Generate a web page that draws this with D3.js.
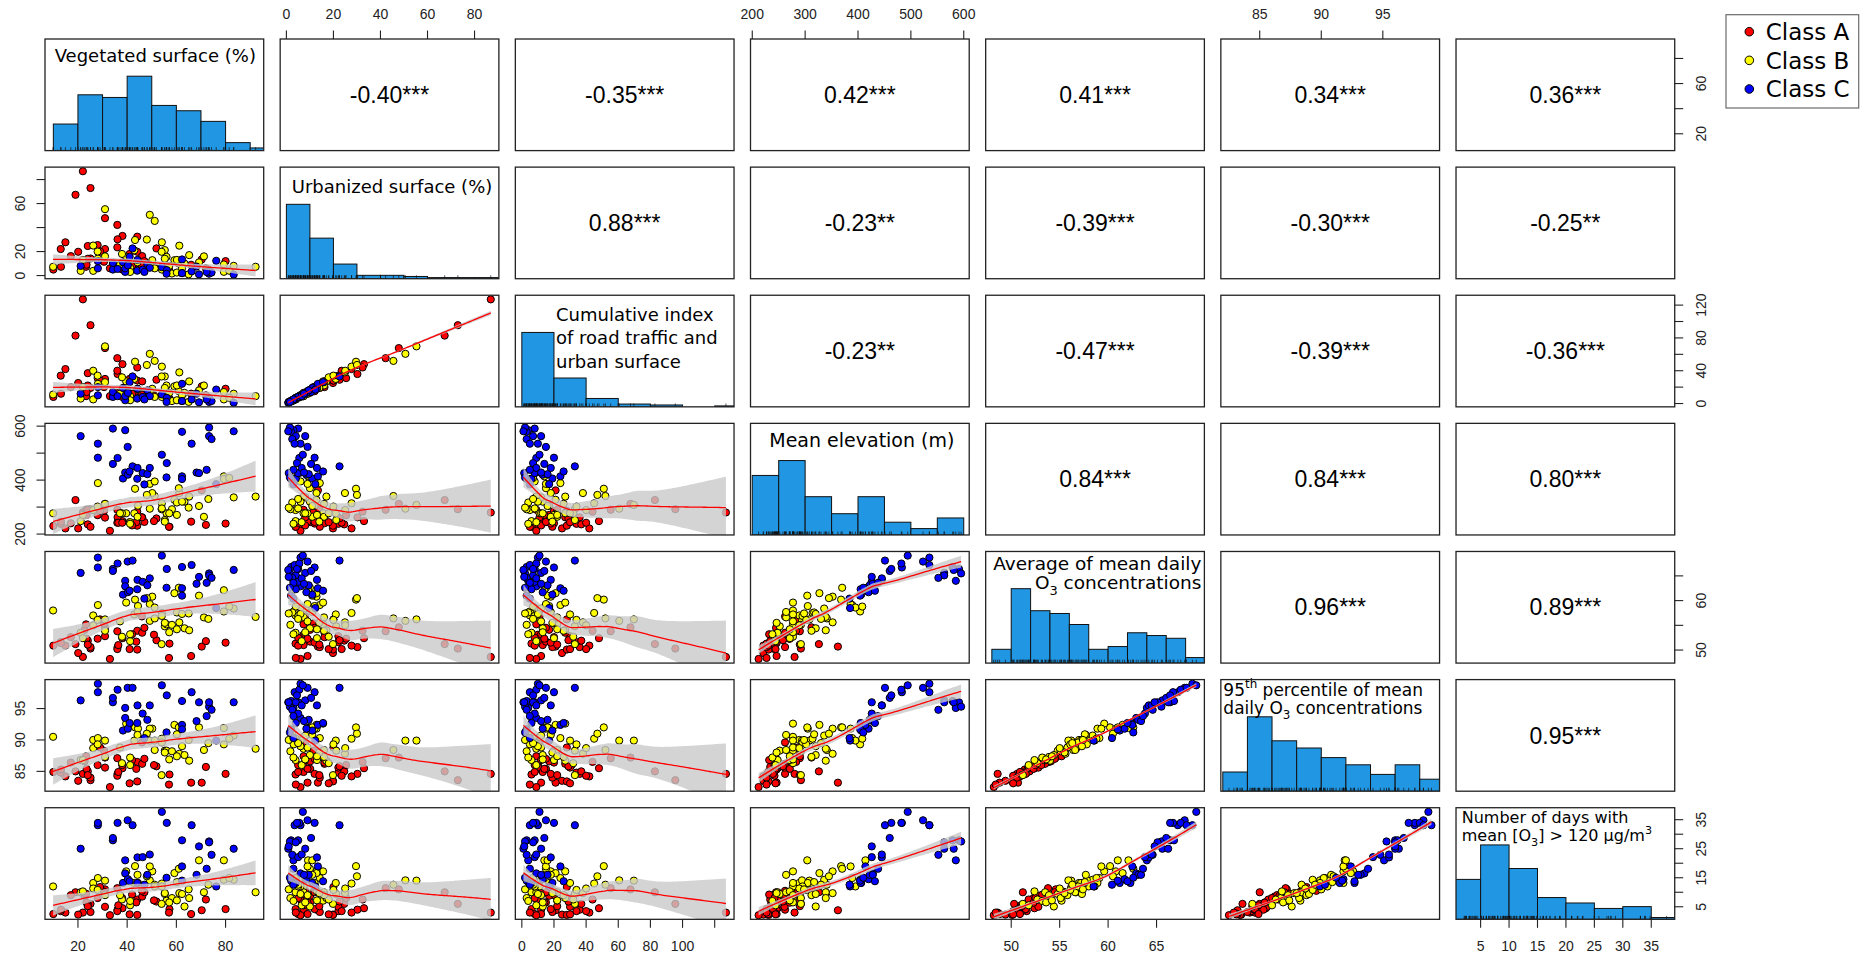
<!DOCTYPE html>
<html><head><meta charset="utf-8">
<script src="https://cdn.jsdelivr.net/npm/d3@7"></script>
<style>body{margin:0;background:#fff;} svg{display:block;}</style>
</head><body>
<svg id="chart" width="1870" height="957"></svg>
<script>
// ---------------- DATA ----------------
// Class A (red)
const vegA  = [22.0,25.1,19.0,31.0,36.0,38.1,36.1,44.1,14.9,13.0,20.1,24.0,28.0,31.0,36.0,44.1,46.1,51.9,57.2,70.3,17.1,22.7,25.1,13.1,23.3,36.4,43.7,50.9,30.6,66.0,72.0,80.0,10.0,42.0,47.0,23.5,24.0,33.0,41.0,57.0,29.0,46.0,38.0];
const urbA  = [86.9,72.9,67.3,47.8,42.2,33.0,30.2,32.4,27.7,22.1,19.8,24.6,25.4,22.1,23.5,19.8,16.2,22.6,3.9,13.4,16.2,10.1,14.2,7.3,7.3,7.3,10.1,7.3,11.5,9.0,6.0,12.0,5.0,8.0,12.0,9.0,14.0,6.0,18.0,4.0,20.0,8.0,5.0];
const cumA  = [127,95.5,82.8,67.6,55.3,48,36,44,42,34,25,37,31,30,40,28,27,29,6,21,20,17,19,12,9,13,15,10,20,12,10,18,8,12,15,14,22,9,30,5,28,11,8];
const elevA = [280,292,326,312,290,248,262,283,221,238,221,236,270,261,242,231,262,258,227,362,240,271,227,246,290,242,244,248,286,246,234,239,230,232,245,271,290,212,244,227,286,262,242];
const o3A   = [48.6,50.3,51.2,54.6,53.8,52.4,50.6,53.9,50.9,51.6,49.4,51.9,52.3,52.8,50.2,50.1,53.5,52.0,51.3,50.7,52.6,54.1,50.6,51.4,55.2,51.0,51.7,53.1,55.4,48.8,51.8,51.5,50.9,53.2,54.5,52.3,51.1,48.2,50.2,48.4,56.2,56.8,52.5];
const p95A  = [84.6,83.6,85.0,87.2,87.1,85.5,84.6,86.5,84.2,84.8,83.5,85.0,86.0,85.6,84.3,83.4,86.2,85.8,84.5,83.2,86.4,86.6,84.0,85.3,87.4,84.9,85.4,86.0,88.3,83.2,85.7,84.6,84.9,86.8,87.0,85.4,84.4,82.5,83.1,82.9,88.8,89.6,86.0];
const daysA = [3,6,10,11,11.4,4.5,4,7.5,3,3.5,2.3,6,8,5,3.5,2.2,8.5,6.8,4.2,3.8,9,8.8,3.2,4,9.5,5.5,6.5,7.2,10.2,2.5,7.5,4.2,2.5,9.2,10,6.4,5.2,2.1,2.4,3,11.8,10.5,8];
// Class B (yellow)
const vegB  = [9.9,21.1,26.2,28.1,31.0,49.2,51.2,43.2,54.1,61.2,55.3,39.6,50.2,56.0,59.2,61.0,63.3,79.3,83.3,92.2,58.2,79.3,54.0,44.4,49.2,51.2,65.2,69.2,71.2,81.5,37.9,41.2,22.0,31.0,42.9,44.2,37.1,41.2,54.1,55.3,57.1,60.2,62.3,60.2,26.2,28.0,48.0,65.0,73.0];
const urbB  = [7.3,3.9,3.9,14.2,55.3,50.6,45.5,29.6,27.7,24.9,21.2,15.6,12.8,15.6,12.8,10.0,10.0,9.2,8.1,7.3,1.7,3.1,19.8,12.0,9.0,6.0,17.0,11.0,16.0,4.0,18.0,6.5,13.0,16.0,21.0,11.0,9.0,3.0,5.0,14.0,8.0,2.5,6.0,13.0,25.0,20.0,30.0,1.0,5.0];
const cumB  = [11,6,5,24,69.7,60.6,52,51,45,38,33,27,18,22,21,15,13,14,12,9,3,5,33,17,15,8,27,16,22,7,32,9,20,26,30,18,12,4,8,19,13,4,10,22,40,34,47,2,7];
const elevB = [277,248,289,389,308,294,341,368,314,352,252,277,352,277,327,370,320,414,336,339,292,404,292,305,386,395,339,304,264,408,277,244,271,312,277,264,277,238,295,246,277,317,320,271,289,302,345,298,330];
const o3B   = [58.0,53.5,57.0,59.1,56.2,55.9,56.4,60.2,57.5,55.6,54.8,59.6,60.8,55.2,61.5,62.6,54.4,62.1,58.4,56.7,55.1,57.8,51.2,58.9,59.3,58.6,54.0,61.0,56.6,58.8,52.7,51.8,52.4,53.9,57.2,57.7,55.8,53.2,56.9,55.5,53.6,57.6,57.3,54.2,55.0,56.1,60.5,57.4,56.3];
const p95B  = [90.5,86.8,90.0,90.3,89.9,89.9,88.4,92.0,90.2,87.8,88.3,92.6,91.8,88.3,92.4,92.0,87.6,91.9,90.7,88.6,88.2,89.3,84.4,91.8,91.8,89.9,86.7,92.0,88.4,90.2,86.3,86.0,86.8,87.3,89.9,90.8,88.8,87.2,89.6,88.0,86.9,90.9,89.0,87.4,88.7,89.3,91.0,90.0,89.5];
const daysB = [12,10,13.2,14.9,14,14.1,12.6,19,13,9.7,9.4,17.2,17.2,7.1,16.6,18.1,5.1,21,14.3,10,8,14.3,6,13.2,18.9,12,8,21,10,14.9,7.5,5.5,10.3,9,13.2,16,9,7,12,9.7,6.5,13.5,9.4,7.2,11.3,10.8,15.5,11,12.6];
// Class C (blue)
const vegC  = [21.1,34.2,39.2,62.3,73.3,73.3,74.3,83.3,28.1,40.2,66.2,28.1,34.2,36.1,42.2,54.1,56.1,38.3,39.2,40.3,44.2,44.1,46.3,48.2,49.2,62.3,62.3,68.2,69.2,72.3,76.2,41.0,47.0,56.0];
const urbC  = [8.0,5.0,3.0,2.0,1.5,4.0,2.5,0.8,6.0,9.0,3.5,12.0,10.5,5.5,22.6,7.0,4.5,11.0,6.0,8.5,13.0,4.0,5.0,9.5,6.5,13.4,2.0,7.5,1.0,3.0,12.3,15.6,3.0,1.5];
const cumC  = [12,8,4,3,2,7,3,1,10,15,5,20,14,9,33,11,7,19,9,13,18,6,8,16,9,24,3,12,1.5,5,17,26,5,2];
const elevC = [563,591,585,579,595,563,552,581,535,523,535,483,460,482,451,494,463,406,428,420,445,405,426,422,445,414,404,428,426,438,385,432,384,410];
const o3C   = [65.6,66.4,64.0,66.8,65.5,65.1,64.6,66.2,68.7,67.9,67.2,66.7,66.0,67.5,68.1,69.1,66.4,61.2,62.9,61.7,64.2,62.3,63.8,63.1,64.5,62.5,61.0,63.4,64.8,63.6,58.5,62.0,60.4,62.6];
const p95C  = [96.3,96.0,95.1,96.2,95.3,96.0,94.8,96.0,98.95,98.3,97.6,97.6,96.7,98.0,98.3,98.7,97.1,91.5,93.5,91.8,95.5,92.7,94.2,93.2,95.5,92.4,91.7,93.0,96.0,93.8,89.9,92.7,90.3,91.2];
const daysC = [25.0,27.9,21.0,27.9,27.5,27.2,22.9,25.0,33.1,34.8,33.1,33.9,28.7,33.9,33.1,37.7,33.9,13.2,16.5,14.5,22.0,13.2,22.1,16.0,23.0,18.9,14.0,16.0,25.8,18.1,12.0,13.8,12.6,15.0];

// Histogram breaks and counts (diagonal panels)
const vegBreaks  = [10,20,30,40,50,60,70,80,90,100];
const vegCounts  = [10,21,20,28,17,15,11,3,1];
const urbBreaks  = [0,10,20,30,40,50,60,70,80,90];
const urbCounts  = [66,36,13,3,3,2,1,1,1];
const cumBreaks  = [0,20,40,60,80,100,120,140];
const cumCounts  = [80,31,9,3,2,0,1];
const elevBreaks = [200,250,300,350,400,450,500,550,600];
const elevCounts = [28,35,18,10,18,6,3,8];
const o3Breaks   = [48,50,52,54,56,58,60,62,64,66,68,70];
const o3Counts   = [5,27,19,18,14,5,6,11,10,9,2];
const p95Breaks  = [82,84,86,88,90,92,94,96,98,100];
const p95Counts  = [8,31,21,18,14,11,7,11,5];
const daysBreaks = [0,5,10,15,20,25,30,35,40];
const daysCounts = [22,41,28,12,9,6,7,1];

// Correlation labels (upper triangle, row by row)
const corrRow1 = ["-0.40***","-0.35***","0.42***","0.41***","0.34***","0.36***"];
const corrRow2 = ["0.88***","-0.23**","-0.39***","-0.30***","-0.25**"];
const corrRow3 = ["-0.23**","-0.47***","-0.39***","-0.36***"];
const corrRow4 = ["0.84***","0.84***","0.80***"];
const corrRow5 = ["0.96***","0.89***"];
const corrRow6 = ["0.95***"];

// Tick values and tick labels
const vegTicks  = [20,40,60,80],            vegOuterLabels  = [20,40,60,80],          vegSideLabels  = [20,60];
const urbTicks  = [0,20,40,60,80],          urbOuterLabels  = [0,20,40,60,80],        urbSideLabels  = [0,20,60];
const cumTicks  = [0,20,40,60,80,100,120],  cumOuterLabels  = [0,20,40,60,80,100],    cumSideLabels  = [0,40,80,120];
const elevTicks = [200,300,400,500,600],    elevOuterLabels = [200,300,400,500,600],  elevSideLabels = [200,400,600];
const o3Ticks   = [50,55,60,65],            o3OuterLabels   = [50,55,60,65],          o3SideLabels   = [50,60];
const p95Ticks  = [85,90,95],               p95OuterLabels  = [85,90,95],             p95SideLabels  = [85,90,95];
const daysTicks = [5,10,15,20,25,30,35],    daysOuterLabels = [5,10,15,20,25,30,35],  daysSideLabels = [5,15,25,35];

const classNames = ["Class A","Class B","Class C"];

// ---------------- ASSEMBLY ----------------
const values = [
  vegA.concat(vegB, vegC), urbA.concat(urbB, urbC), cumA.concat(cumB, cumC),
  elevA.concat(elevB, elevC), o3A.concat(o3B, o3C), p95A.concat(p95B, p95C), daysA.concat(daysB, daysC)
];
const cls = vegA.map(()=>0).concat(vegB.map(()=>1), vegC.map(()=>2));
const hists = [[vegBreaks,vegCounts],[urbBreaks,urbCounts],[cumBreaks,cumCounts],[elevBreaks,elevCounts],
               [o3Breaks,o3Counts],[p95Breaks,p95Counts],[daysBreaks,daysCounts]];
const corrRows = [corrRow1,corrRow2,corrRow3,corrRow4,corrRow5,corrRow6];
const axisDefs = [
  [vegTicks,vegOuterLabels,vegSideLabels],[urbTicks,urbOuterLabels,urbSideLabels],[cumTicks,cumOuterLabels,cumSideLabels],
  [elevTicks,elevOuterLabels,elevSideLabels],[o3Ticks,o3OuterLabels,o3SideLabels],[p95Ticks,p95OuterLabels,p95SideLabels],
  [daysTicks,daysOuterLabels,daysSideLabels]
];

// ---------------- LAYOUT / STYLE ----------------
const X0 = 45, Y0 = 39, PX = 235.17, PY = 128.12, W = 218.7, H = 111.6;
const colors = ["#ff0000","#ffff00","#0000ff"];
const barFill = "#2196e3";
const axisFont = "'Liberation Sans', Arial, sans-serif";
const labelFont = "'DejaVu Sans', sans-serif";

const labelSpecs = [
  {lines:[[{t:"Vegetated surface (%)"}]], anchor:"middle", x:W/2+1, y:22.7, lh:0, fs:18},
  {lines:[[{t:"Urbanized surface (%)"}]], anchor:"middle", x:W/2+2.5, y:26, lh:0, fs:18},
  {lines:[[{t:"Cumulative index"}],[{t:"of road traffic and"}],[{t:"urban surface"}]], anchor:"start", x:40.7, y:25.5, lh:23.6, fs:18},
  {lines:[[{t:"Mean elevation (m)"}]], anchor:"middle", x:W/2+2, y:24, lh:0, fs:19},
  {lines:[[{t:"Average of mean daily"}],[{t:"O"},{t:"3",s:"sub"},{t:" concentrations"}]], anchor:"end", x:W-3, y:18.5, lh:19.3, fs:18.5},
  {lines:[[{t:"95"},{t:"th",s:"sup"},{t:" percentile of mean"}],[{t:"daily O"},{t:"3",s:"sub"},{t:" concentrations"}]], anchor:"start", x:2.5, y:16, lh:18, fs:17},
  {lines:[[{t:"Number of days with"}],[{t:"mean [O"},{t:"3",s:"sub"},{t:"] > 120 µg/m"},{t:"3",s:"sup"}]], anchor:"start", x:5.7, y:15.6, lh:17.4, fs:16}
];

// ---------------- HELPERS ----------------
function rdomain(v){ const mn=d3.min(v), mx=d3.max(v), r=mx-mn; return [mn-0.04*r, mx+0.04*r]; }
const xS = values.map(v => d3.scaleLinear().domain(rdomain(v)).range([0, W]));
const yS = values.map(v => d3.scaleLinear().domain(rdomain(v)).range([H, 0]));

// local linear loess (span 0.75, tricube weights) with robustness weights
function loessRow(xs, x0, q, rw){
  const n = xs.length;
  const d = xs.map(x=>Math.abs(x-x0));
  const s = d.slice().sort((a,b)=>a-b);
  let h = s[q-1]; if (!(h>0)) h = 1e-6;
  let s0=0,s1=0,s2=0; const w=new Array(n), tt=new Array(n);
  for (let i=0;i<n;i++){
    const u=d[i]/h; const wi = (u<1 ? Math.pow(1-u*u*u,3) : 0)*rw[i];
    const t=(xs[i]-x0)/h; w[i]=wi; tt[i]=t;
    s0+=wi; s1+=wi*t; s2+=wi*t*t;
  }
  const det = s0*s2 - s1*s1;
  const a0 = s2/det, a1 = -s1/det;
  return w.map((wi,i)=> wi*(a0+a1*tt[i]));
}
function loess(xs, ys, span, iters){
  const n = xs.length, q = Math.floor(n*span);
  let rw = new Array(n).fill(1), res = new Array(n).fill(0);
  let trL=0, fro=0;
  for (let it=0; it<=iters; it++){
    trL=0; fro=0;
    for (let i=0;i<n;i++){
      const l = loessRow(xs, xs[i], q, rw);
      let f=0; for (let j=0;j<n;j++){ f+=l[j]*ys[j]; fro+=l[j]*l[j]; }
      trL += l[i]; res[i] = ys[i]-f;
    }
    if (it<iters){
      const s = d3.median(res.map(Math.abs));
      rw = res.map(r=>{ const u = r/(6*s); return Math.abs(u)<1 ? Math.pow(1-u*u,2) : 0; });
    }
  }
  let num=0, den=0;
  for (let i=0;i<n;i++){ num += rw[i]*res[i]*res[i]; den += rw[i]; }
  const sigma = Math.sqrt(num/Math.max(1, den - 2*trL + fro*den/n));
  const [mn,mx] = d3.extent(xs);
  const out=[];
  for (let k=0;k<=100;k++){
    const x0 = mn + (mx-mn)*k/100;
    const l = loessRow(xs, x0, q, rw);
    let f=0, ss=0; for (let j=0;j<n;j++){ f+=l[j]*ys[j]; ss+=l[j]*l[j]; }
    const se = sigma*Math.sqrt(ss);
    out.push({x:x0, y:f, lo:f-1.98*se, hi:f+1.98*se});
  }
  return out;
}
function richText(g, x, y, segs, anchor, fs){
  const t = g.append("text").attr("x",x).attr("y",y).attr("text-anchor",anchor)
    .attr("font-family",labelFont).attr("font-size",fs).attr("fill","#000");
  let shift = 0;
  segs.forEach(s=>{
    let target = 0, size = fs;
    if (s.s==="sub"){ target = 0.3*fs; size = fs*0.7; }
    if (s.s==="sup"){ target = -0.42*fs; size = fs*0.7; }
    t.append("tspan").attr("dy", target-shift).attr("font-size", size).text(s.t);
    shift = target;
  });
}

// ---------------- DRAW ----------------
const svg = d3.select("#chart");
svg.append("rect").attr("width",1870).attr("height",957).attr("fill","#fff");
svg.append("defs").append("clipPath").attr("id","pclip")
  .append("rect").attr("x",0).attr("y",0).attr("width",W).attr("height",H);

const n = values[0].length;
for (let r=0;r<7;r++){
  for (let c=0;c<7;c++){
    const g = svg.append("g").attr("transform",`translate(${X0+c*PX},${Y0+r*PY})`);
    const inner = g.append("g").attr("clip-path","url(#pclip)");
    if (r===c){
      const [br,ct] = hists[r];
      const x = xS[c];
      const mxc = d3.max(ct);
      const yh = d3.scaleLinear().domain([0,1.5]).range([H,0]);
      inner.selectAll("rect.bar").data(ct).enter().append("rect")
        .attr("x",(d,i)=>x(br[i])).attr("width",(d,i)=>x(br[i+1])-x(br[i]))
        .attr("y",d=>yh(d/mxc)).attr("height",d=>H-yh(d/mxc))
        .attr("fill",barFill).attr("stroke","#111").attr("stroke-width",1);
      inner.selectAll("line.rug").data(values[c]).enter().append("line")
        .attr("x1",d=>x(d)).attr("x2",d=>x(d)).attr("y1",H).attr("y2",H-3.4)
        .attr("stroke","#111").attr("stroke-width",0.7);
      const sp = labelSpecs[r];
      sp.lines.forEach((ln,i)=> richText(g, sp.x, sp.y+i*sp.lh, ln, sp.anchor, sp.fs));
    } else if (r>c){
      const xs = values[c], ys = values[r];
      const x = xS[c], y = yS[r];
      inner.selectAll("circle").data(d3.range(n)).enter().append("circle")
        .attr("cx",i=>x(xs[i])).attr("cy",i=>y(ys[i])).attr("r",3.6)
        .attr("fill",i=>colors[cls[i]]).attr("stroke","#000").attr("stroke-width",1);
      const fit = loess(xs, ys, 0.75, 4);
      inner.append("path").datum(fit)
        .attr("d", d3.area().x(d=>x(d.x)).y0(d=>y(d.lo)).y1(d=>y(d.hi)))
        .attr("fill","#c9c9c9").attr("fill-opacity",0.8).attr("stroke","none");
      inner.append("path").datum(fit)
        .attr("d", d3.line().x(d=>x(d.x)).y(d=>y(d.y)))
        .attr("fill","none").attr("stroke","#ff0000").attr("stroke-width",1.3);
    } else {
      g.append("text").attr("x",W/2).attr("y",H/2+8.2).attr("text-anchor","middle")
        .attr("font-family",axisFont).attr("font-size",23).attr("fill","#000")
        .text(corrRows[r][c-r-1]);
    }
    g.append("rect").attr("x",0).attr("y",0).attr("width",W).attr("height",H)
      .attr("fill","none").attr("stroke","#222").attr("stroke-width",1.3);

    // axes
    const [ticks, outerL] = axisDefs[c];
    if (r===6 && c%2===0){ // bottom
      ticks.forEach(t=>{
        g.append("line").attr("x1",xS[c](t)).attr("x2",xS[c](t)).attr("y1",H).attr("y2",H+8.5).attr("stroke","#222").attr("stroke-width",1.1);
        if (outerL.includes(t)) g.append("text").attr("x",xS[c](t)).attr("y",H+31.4).attr("text-anchor","middle")
          .attr("font-family",axisFont).attr("font-size",14).attr("fill","#222").text(t);
      });
    }
    if (r===0 && c%2===1){ // top
      ticks.forEach(t=>{
        g.append("line").attr("x1",xS[c](t)).attr("x2",xS[c](t)).attr("y1",0).attr("y2",-8.5).attr("stroke","#222").attr("stroke-width",1.1);
        if (outerL.includes(t)) g.append("text").attr("x",xS[c](t)).attr("y",-20).attr("text-anchor","middle")
          .attr("font-family",axisFont).attr("font-size",14).attr("fill","#222").text(t);
      });
    }
    const [rt, , rsl] = axisDefs[r];
    if (c===0 && r%2===1){ // left
      rt.forEach(t=>{
        g.append("line").attr("x1",0).attr("x2",-8.5).attr("y1",yS[r](t)).attr("y2",yS[r](t)).attr("stroke","#222").attr("stroke-width",1.1);
        if (rsl.includes(t)) g.append("text").attr("transform",`translate(-20.4,${yS[r](t)}) rotate(-90)`).attr("text-anchor","middle")
          .attr("font-family",axisFont).attr("font-size",14).attr("fill","#222").text(t);
      });
    }
    if (c===6 && r%2===0){ // right
      rt.forEach(t=>{
        g.append("line").attr("x1",W).attr("x2",W+8.5).attr("y1",yS[r](t)).attr("y2",yS[r](t)).attr("stroke","#222").attr("stroke-width",1.1);
        if (rsl.includes(t)) g.append("text").attr("transform",`translate(${W+31},${yS[r](t)}) rotate(-90)`).attr("text-anchor","middle")
          .attr("font-family",axisFont).attr("font-size",14).attr("fill","#222").text(t);
      });
    }
  }
}

// legend
const lg = svg.append("g");
lg.append("rect").attr("x",1726).attr("y",14.7).attr("width",132.7).attr("height",93.3)
  .attr("fill","#fff").attr("stroke","#6b6b6b").attr("stroke-width",1.2);
classNames.forEach((nm,i)=>{
  const cy = 31.7 + i*28.65;
  lg.append("circle").attr("cx",1749.3).attr("cy",cy).attr("r",4.3).attr("fill",colors[i]).attr("stroke","#000").attr("stroke-width",1);
  lg.append("text").attr("x",1765.7).attr("y",cy+8.3).attr("font-family",labelFont).attr("font-size",23).attr("fill","#000").text(nm);
});
</script>
</body></html>
